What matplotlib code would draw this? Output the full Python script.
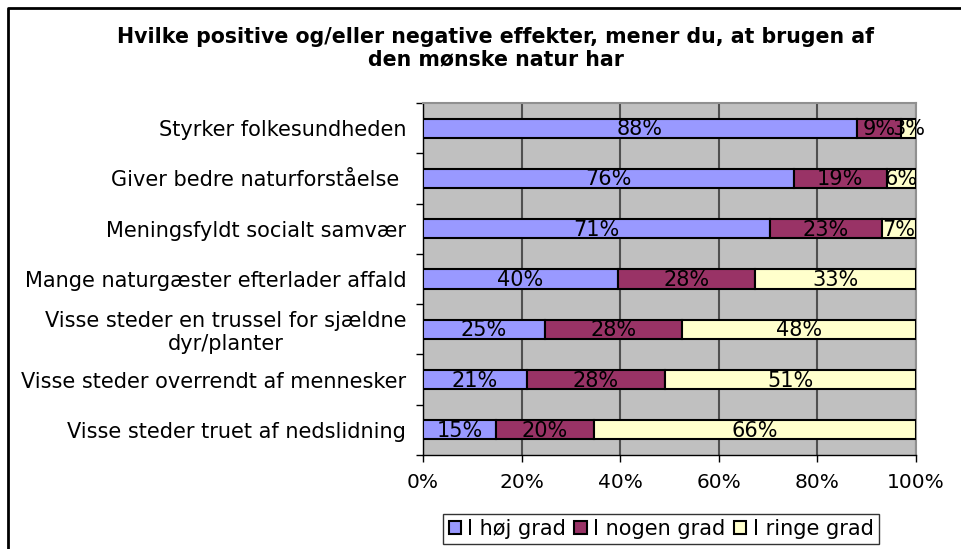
import numpy as np
import matplotlib.pyplot as plt
from matplotlib.lines import Line2D

categories = [
    "Styrker folkesundheden",
    "Giver bedre naturforståelse ",
    "Meningsfyldt socialt samvær",
    "Mange naturgæster efterlader affald",
    "Visse steder en trussel for sjældne\ndyr/planter",
    "Visse steder overrendt af mennesker",
    "Visse steder truet af nedslidning",
]
hoej = [88, 76, 71, 40, 25, 21, 15]
nogen = [9, 19, 23, 28, 28, 28, 20]
ringe = [3, 6, 7, 33, 48, 51, 66]
series_names = ["I høj grad", "I nogen grad", "I ringe grad"]
colors = ["#9999FF", "#993366", "#FFFFCC"]
xticks = [0, 20, 40, 60, 80, 100]
title = "Hvilke positive og/eller negative effekter, mener du, at brugen af\nden mønske natur har"

W, H = 962, 549
fig = plt.figure(figsize=(W / 100, H / 100), dpi=100)
ax = fig.add_axes([423 / W, 1 - 455 / H, (916 - 423) / W, (455 - 103) / H])
ax.set_facecolor("#C0C0C0")

data = np.array([hoej, nogen, ringe], dtype=float)
shares = data / data.sum(axis=0) * 100
y = np.arange(len(categories))
left = np.zeros(len(categories))
for i in range(3):
    bars = ax.barh(y, shares[i], left=left, height=0.38, color=colors[i],
                   edgecolor="black", linewidth=1.5, label=series_names[i], zorder=3)
    for j, b in enumerate(bars):
        ax.text(left[j] + shares[i][j] / 2, y[j] + 0.02, f"{int(data[i][j])}%",
                ha="center", va="center", fontsize=15, color="black", zorder=4)
    left += shares[i]

ax.set_xlim(0, 100)
ax.set_ylim(len(categories) - 0.5, -0.5)
ax.set_xticks(xticks)
ax.set_xticklabels([f"{t}%" for t in xticks], fontsize=14.5)
ax.tick_params(axis="x", length=5, width=1, pad=8)
ax.set_yticks(y)
ax.set_yticklabels(categories, fontsize=15, multialignment="center")
ax.tick_params(axis="y", length=0, pad=12)
ax.set_yticks(np.arange(-0.5, len(categories)), minor=True)
ax.tick_params(axis="y", which="minor", length=5, width=1)
ax.xaxis.grid(True, color="#505050", linewidth=1.5, zorder=1)
ax.set_axisbelow(True)
for s in ["top", "right"]:
    ax.spines[s].set_color("#909090")
    ax.spines[s].set_linewidth(1.5)
for s in ["left", "bottom"]:
    ax.spines[s].set_color("black")
    ax.spines[s].set_linewidth(1)

fig.text(496 / W, 1 - 48 / H, title, ha="center", va="center", fontsize=14.8,
         fontweight="bold", linespacing=1.15)

leg = fig.legend(loc="center", bbox_to_anchor=(661 / W, 1 - 529 / H), ncol=3,
                 fontsize=15, frameon=True, fancybox=False, edgecolor="black",
                 handlelength=0.6, handleheight=0.6, handletextpad=0.3,
                 columnspacing=0.4, borderpad=0.25)
leg.get_frame().set_linewidth(1)

fig.add_artist(Line2D([8 / W, 8 / W, 1], [0, 1 - 8 / H, 1 - 8 / H],
                      color="black", linewidth=2, transform=fig.transFigure))

fig.savefig("out.png", dpi=100)
